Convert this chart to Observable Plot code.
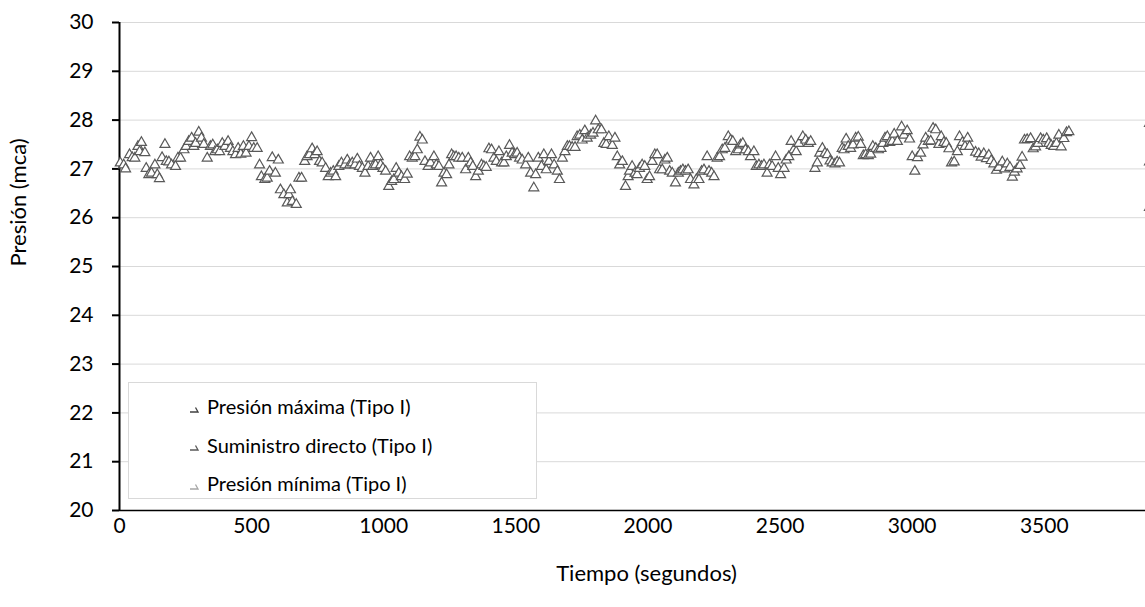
<!DOCTYPE html>
<html>
<head>
<meta charset="utf-8">
<script src="https://cdn.jsdelivr.net/npm/d3@7"></script>
<script src="https://cdn.jsdelivr.net/npm/@observablehq/plot@0.6"></script>
<style>
  html, body { margin: 0; padding: 0; background: #fff; }
  #wrap { position: relative; width: 1145px; height: 607px; overflow: hidden; font-family: Lato, "Open Sans", sans-serif; }
  #legend { position: absolute; left: 128px; top: 382px; width: 409px; height: 117px; background: #fff; border: 1px solid #d9d9d9; box-sizing: border-box; }
  .item { position: absolute; left: 60px; font-size: 20px; color: #000; line-height: 24px; white-space: nowrap; }
  .item svg { vertical-align: middle; margin-right: 8px; }
</style>
</head>
<body>
<div id="wrap"></div>
<script>
// Time (s) and pressure (mca): "Suministro directo (Tipo I)"
const tiempo = [
  3,16,23,38,48,58,70,76,83,96,101,111,121,134,143,151,161,172,177,187,197,212,221,231,244,252,262,273,281,288,
  300,310,319,332,344,353,361,370,379,389,399,411,420,429,439,449,459,469,479,490,500,508,521,530,537,550,559,568,578,590,
  601,609,622,635,641,647,654,669,679,689,701,710,719,729,739,748,757,767,780,790,799,809,818,830,840,853,862,871,881,891,
  900,908,919,929,941,950,959,969,979,988,997,1007,1019,1030,1038,1047,1057,1067,1079,1089,1098,1108,1118,1127,1137,1146,1156,1168,1177,1190,
  1199,1209,1219,1228,1238,1247,1257,1265,1274,1284,1297,1310,1320,1329,1337,1348,1358,1370,1379,1388,1398,1408,1417,1426,1436,1446,1455,1464,1476,1486,
  1496,1505,1514,1524,1537,1547,1556,1568,1575,1585,1597,1606,1615,1625,1635,1645,1657,1665,1676,1686,1695,1703,1713,1724,1732,1742,1751,1761,1770,1783,
  1792,1802,1812,1824,1833,1842,1852,1865,1875,1884,1893,1903,1915,1925,1930,1940,1951,1959,1968,1978,1988,1997,2006,2016,2026,2035,2044,2054,2064,2073,
  2082,2092,2104,2115,2123,2132,2142,2152,2161,2174,2183,2193,2203,2212,2224,2231,2241,2250,2262,2271,2281,2291,2304,2313,2321,2332,2342,2350,2359,2369,
  2380,2388,2401,2410,2420,2430,2439,2451,2460,2470,2483,2493,2502,2515,2523,2533,2542,2552,2561,2571,2586,2597,2607,2616,2632,2641,2650,2660,2670,2679,
  2689,2697,2708,2716,2725,2735,2742,2750,2758,2767,2776,2786,2796,2805,2815,2824,2834,2843,2851,2862,2872,2882,2889,2897,2906,2915,2925,2932,2944,2960,
  2969,2981,2990,3000,3010,3020,3032,3041,3051,3061,3070,3079,3089,3101,3110,3120,3129,3139,3149,3159,3171,3179,3190,3200,3210,3217,3240,3252,3261,3271,
  3281,3290,3299,3309,3319,3328,3341,3350,3360,3370,3379,3387,3397,3408,3416,3425,3435,3448,3458,3467,3476,3486,3496,3509,3517,3526,3536,3546,3555,3564,
  3574,3584,3593
];
const presion = [
  27.12,27.08,27.00,27.29,27.23,27.22,27.46,27.35,27.54,27.33,27.01,26.88,26.91,27.08,26.88,26.80,27.23,27.50,27.15,27.14,27.08,27.05,27.22,27.22,27.39,27.46,27.56,27.63,27.46,27.52,
  27.75,27.63,27.50,27.22,27.46,27.49,27.35,27.39,27.35,27.52,27.46,27.56,27.42,27.35,27.29,27.42,27.30,27.46,27.32,27.46,27.64,27.42,27.42,27.08,26.84,26.78,26.81,26.95,27.23,26.91,
  27.18,26.57,26.47,26.30,26.47,26.57,26.33,26.27,26.81,26.81,27.15,27.25,27.29,27.41,27.29,27.35,27.15,27.12,27.01,26.84,26.91,26.95,26.84,27.05,27.12,27.08,27.18,27.08,27.12,27.08,
  27.20,27.05,27.01,26.91,27.05,27.22,27.05,27.08,27.25,27.08,27.01,26.95,26.64,26.74,26.78,27.01,26.91,26.84,26.78,26.89,27.25,27.22,27.25,27.39,27.65,27.59,27.15,27.05,27.12,27.25,
  27.08,27.05,26.71,26.91,26.88,27.08,27.29,27.25,27.25,27.22,27.22,26.98,27.22,27.12,27.05,26.84,26.95,27.08,27.05,27.03,27.41,27.39,27.22,27.15,27.35,27.12,27.12,27.25,27.48,27.32,
  27.29,27.32,27.22,27.18,27.08,27.22,26.91,26.61,26.88,27.22,27.05,27.29,26.98,27.15,27.29,27.08,26.95,26.78,27.22,27.35,27.46,27.46,27.44,27.44,27.66,27.69,27.59,27.78,27.63,27.69,
  27.73,27.98,27.80,27.80,27.52,27.50,27.66,27.48,27.63,27.25,27.08,27.15,26.64,26.84,26.95,27.05,26.91,26.88,27.01,27.08,27.05,26.78,26.84,27.15,27.29,27.29,26.98,26.98,27.18,27.22,
  26.95,26.91,26.71,26.91,26.95,26.98,26.95,26.98,26.78,26.67,26.78,26.78,26.95,26.98,27.25,26.95,26.91,26.84,27.22,27.25,27.39,27.42,27.66,27.59,27.56,27.35,27.39,27.49,27.52,27.39,
  27.35,27.25,27.35,27.05,27.08,27.05,27.08,26.91,27.08,27.05,27.25,27.01,26.88,27.01,27.18,27.25,27.56,27.39,27.35,27.52,27.66,27.59,27.52,27.56,27.01,27.12,27.32,27.42,27.32,27.29,
  27.16,27.12,27.10,27.14,27.12,27.42,27.39,27.61,27.46,27.42,27.49,27.63,27.65,27.50,27.27,27.29,27.27,27.30,27.46,27.42,27.39,27.42,27.52,27.63,27.66,27.54,27.56,27.71,27.56,27.86,
  27.69,27.78,27.61,27.25,26.95,27.23,27.32,27.49,27.63,27.56,27.57,27.83,27.80,27.50,27.66,27.54,27.52,27.41,27.12,27.14,27.35,27.66,27.54,27.46,27.63,27.46,27.34,27.31,27.24,27.31,
  27.21,27.28,27.17,27.10,26.97,27.03,27.14,27.00,27.10,27.03,26.83,26.93,27.00,27.07,27.24,27.59,27.60,27.62,27.41,27.45,27.52,27.62,27.59,27.62,27.52,27.48,27.46,27.52,27.69,27.45,
  27.62,27.74,27.76
];
// Partially visible markers at the right edge (other series)
const bordeTiempo = [3898, 3898, 3898];
const bordePresion = [27.93, 27.14, 26.21];

const xTicks = [0, 500, 1000, 1500, 2000, 2500, 3000, 3500];
const yTicks = [20, 21, 22, 23, 24, 25, 26, 27, 28, 29, 30];
const series = ["Presión máxima (Tipo I)", "Suministro directo (Tipo I)", "Presión mínima (Tipo I)"];
const seriesColors = ["#404040", "#595959", "#a6a6a6"];

const data = tiempo.map((t, i) => ({t, p: presion[i]}));
const borde = bordeTiempo.map((t, i) => ({t, p: bordePresion[i]}));

const chart = Plot.plot({
  width: 1145,
  height: 607,
  marginLeft: 119,
  marginRight: 0,
  marginTop: 22,
  marginBottom: 97,
  style: {fontFamily: "Lato, 'Open Sans', sans-serif", fontSize: "21px", color: "#000", background: "#fff", overflow: "hidden"},
  x: {domain: [0, 3883]},
  y: {domain: [20, 30]},
  marks: [
    Plot.gridY(yTicks, {stroke: "#d9d9d9", strokeOpacity: 1, strokeWidth: 1}),
    Plot.axisY(yTicks, {tickSize: 7, tickPadding: 19, label: null, fontSize: 21, strokeWidth: 2, tickFormat: "d"}),
    Plot.axisX(xTicks, {tickSize: 0, tickPadding: 8, label: null, fontSize: 21, tickFormat: "d"}),
    Plot.ruleY([20], {stroke: "#000", strokeWidth: 1.5}),
    Plot.ruleX([0], {stroke: "#000", strokeWidth: 2}),
    Plot.dot(data, {x: "t", y: "p", symbol: "triangle", r: 3.7, stroke: "#595959", strokeWidth: 1.2, fill: "#fff", fillOpacity: 1}),
    Plot.dot(borde, {x: "t", y: "p", symbol: "triangle", r: 3.7, stroke: "#595959", strokeWidth: 1.2, fill: "#fff", fillOpacity: 1}),
    Plot.text(["Presión (mca)"], {frameAnchor: "left", dx: -101, rotate: -90, fontSize: 22, fill: "#000"}),
    Plot.text(["Tiempo (segundos)"], {frameAnchor: "bottom", dy: 70, dx: 14, fontSize: 22, fill: "#000"})
  ]
});

const wrap = document.getElementById("wrap");
wrap.appendChild(chart);

const legend = document.createElement("div");
legend.id = "legend";
series.forEach((name, i) => {
  const item = document.createElement("div");
  item.className = "item";
  item.style.top = (11 + i * 38.5) + "px";
  item.innerHTML = `<svg width="10" height="10" viewBox="0 0 10 10"><polyline points="1,8 9,8 6.5,3.5" fill="none" stroke="${seriesColors[i]}" stroke-width="1.3"/></svg>`;
  const span = document.createElement("span");
  span.textContent = name;
  item.appendChild(span);
  legend.appendChild(item);
});
wrap.appendChild(legend);
</script>
</body>
</html>
